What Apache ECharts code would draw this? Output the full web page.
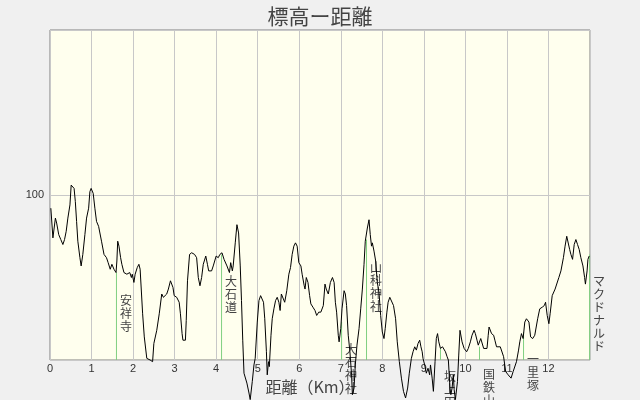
<!DOCTYPE html>
<html>
<head>
<meta charset="utf-8">
<script src="https://cdn.jsdelivr.net/npm/echarts@6/dist/echarts.min.js"></script>
<style>
html,body{margin:0;padding:0;background:#f0f0f0;}
#chart{width:640px;height:400px;}
</style>
</head>
<body>
<div id="chart"></div>
<script>
// Distance along the route (km)
var distKm = [0.02,0.07,0.13,0.16,0.21,0.26,0.31,0.35,0.39,0.43,0.48,0.51,0.54,0.58,0.61,0.64,0.67,0.72,0.75,0.79,
0.84,0.88,0.93,0.96,0.99,1.04,1.08,1.12,1.17,1.24,1.30,1.36,1.40,1.45,1.49,1.54,1.59,1.61,1.63,1.66,
1.70,1.73,1.78,1.85,1.92,1.96,1.98,2.02,2.05,2.10,2.14,2.17,2.23,2.27,2.33,2.41,2.47,2.50,2.57,2.63,
2.69,2.73,2.81,2.85,2.90,2.96,2.99,3.05,3.11,3.14,3.18,3.20,3.26,3.28,3.31,3.36,3.41,3.48,3.53,3.57,
3.61,3.65,3.69,3.75,3.79,3.82,3.89,3.93,4.00,4.05,4.09,4.14,4.19,4.26,4.32,4.35,4.39,4.41,4.46,4.50,
4.52,4.54,4.58,4.61,4.64,4.67,4.74,4.79,4.82,4.87,4.91,4.94,4.99,5.03,5.07,5.11,5.14,5.17,5.21,5.23,
5.26,5.28,5.32,5.35,5.39,5.43,5.47,5.51,5.54,5.57,5.61,5.65,5.70,5.75,5.79,5.83,5.87,5.91,5.95,5.99,
6.04,6.07,6.12,6.14,6.17,6.21,6.25,6.28,6.33,6.38,6.42,6.47,6.52,6.58,6.62,6.65,6.70,6.75,6.80,6.84,
6.87,6.90,6.94,6.96,7.00,7.03,7.08,7.11,7.14,7.18,7.22,7.26,7.28,7.32,7.35,7.39,7.44,7.48,7.52,7.56,
7.59,7.64,7.68,7.71,7.74,7.76,7.80,7.84,7.88,7.92,7.96,8.00,8.04,8.07,8.11,8.14,8.18,8.22,8.27,8.32,
8.36,8.41,8.46,8.51,8.56,8.61,8.65,8.70,8.74,8.78,8.82,8.86,8.90,8.93,8.96,8.98,9.02,9.06,9.10,9.14,
9.16,9.20,9.23,9.27,9.30,9.33,9.36,9.40,9.45,9.49,9.52,9.56,9.59,9.63,9.65,9.68,9.71,9.73,9.76,9.81,
9.84,9.87,9.89,9.92,9.97,10.03,10.07,10.12,10.16,10.21,10.24,10.28,10.31,10.34,10.37,10.40,10.44,10.48,10.52,10.55,
10.57,10.60,10.63,10.68,10.71,10.75,10.79,10.84,10.88,10.92,10.97,11.03,11.10,11.15,11.23,11.28,11.31,11.35,11.39,11.43,
11.47,11.53,11.57,11.62,11.67,11.74,11.79,11.85,11.90,11.93,11.97,12.01,12.04,12.09,12.16,12.20,12.25,12.30,12.36,12.40,
12.44,12.47,12.51,12.54,12.58,12.62,12.66,12.70,12.74,12.78,12.83,12.87,12.89,12.93,12.95,12.98];

// Elevation (m, on the chart's scale)
var elevM = [92,74,86,83,76,73,70,73,78,86,94,106,107,104,96,84,72,62,57,64,
76,86,92,102,104,101,92,84,81,72,64,62,59,55,58,55,53,60,72,69,
62,58,53,52,53,50,52,47,52,56,58,55,28,14,1,0,-1,10,18,28,
40,38,40,43,48,44,39,38,35,28,16,12,12,24,48,64,65,64,62,50,
45,50,58,63,58,54,54,57,63,62,64,65,61,57,53,59,54,57,71,82,
83,77,57,36,12,-8,-14,-20,-24,-13,-3,1,23,36,39,40,35,25,5,-9,
-1,-4,15,25,31,36,38,35,30,40,41,35,42,52,56,64,69,71,69,59,
57,52,45,43,50,47,39,34,32,30,27,29,29,33,46,43,40,47,50,47,
35,29,15,11,19,31,42,40,33,15,5,-9,-21,-17,-3,9,19,31,43,58,
72,80,85,76,69,71,66,60,47,41,27,17,13,19,29,35,38,37,33,25,
11,-1,-11,-19,-23,-17,-8,1,5,8,6,10,12,8,5,1,-3,-8,-5,-9,
-3,-11,-19,-1,13,16,11,7,8,9,5,2,0,-17,-21,-17,-9,-18,-24,-13,
3,18,19,11,7,5,7,11,15,18,16,12,9,10,13,12,7,6,7,15,
20,21,16,15,12,8,9,8,7,2,-7,-9,-11,-7,-1,6,11,16,13,23,
25,23,14,13,15,25,31,32,33,35,27,22,28,39,43,44,50,54,62,69,
75,75,67,64,61,70,73,70,67,62,57,50,46,54,61,63];

// Landmarks along the route
var landmarkNames = ['安祥寺','大石道','大石神社','山科神社','坂上田村麻呂墓','国鉄山科駅','一里塚','マクドナルド'];
var landmarkKm    = [1.60, 4.13, 7.02, 7.62, 9.40, 10.34, 11.40, 12.99];
var landmarkElev  = [53, 64, 23, 73, 7, 8, 17, 64];

var xTicks = {min: 0, max: 13, step: 1};
var yTicks = {min: 0, max: 200, step: 100};

var profile = distKm.map(function (d, i) { return [d, elevM[i]]; });
var marks = landmarkKm.map(function (d, i) { return {name: landmarkNames[i], value: [d, landmarkElev[i]]}; });

var chart = echarts.init(document.getElementById('chart'), null, {renderer: 'canvas'});
chart.setOption({
  animation: false,
  backgroundColor: '#f0f0f0',
  title: {
    text: '標高ー距離',
    left: 'center',
    top: 1,
    textStyle: {fontFamily: 'Noto Sans CJK JP', fontSize: 21, fontWeight: 'normal', color: '#444'}
  },
  grid: {
    left: 50, right: 50, top: 30, bottom: 40,
    show: true, backgroundColor: '#ffffee', borderColor: '#808080', borderWidth: 1
  },
  xAxis: {
    type: 'value',
    min: xTicks.min, max: xTicks.max, interval: xTicks.step,
    name: '距離（Km）',
    nameLocation: 'middle',
    nameGap: 15,
    nameTextStyle: {fontFamily: 'Noto Sans CJK JP', fontSize: 16, color: '#444', padding: [0, 20, 0, 0]},
    axisLine: {show: false},
    axisTick: {show: false},
    axisLabel: {margin: 3, fontSize: 11, color: '#333', fontFamily: 'Liberation Sans', showMaxLabel: false},
    splitLine: {show: true, lineStyle: {color: '#c8c8c8', width: 1}}
  },
  yAxis: {
    type: 'value',
    min: yTicks.min, max: yTicks.max, interval: yTicks.step,
    axisLine: {show: false},
    axisTick: {show: false},
    axisLabel: {margin: 6, fontSize: 11, color: '#333', fontFamily: 'Liberation Sans', showMinLabel: false, showMaxLabel: false},
    splitLine: {show: true, lineStyle: {color: '#c8c8c8', width: 1}}
  },
  series: [
    {
      type: 'bar',
      data: marks,
      barWidth: 1,
      z: 2,
      itemStyle: {color: '#80d080'},
      label: {
        show: true,
        position: [10, 21],
        align: 'center',
        verticalAlign: 'top',
        fontFamily: 'Noto Sans CJK JP',
        fontSize: 12,
        lineHeight: 13,
        color: '#444',
        formatter: function (p) { return p.name.split('').join('\n'); }
      }
    },
    {
      type: 'line',
      data: profile,
      clip: false,
      z: 3,
      symbol: 'none',
      showSymbol: false,
      lineStyle: {color: '#000', width: 1}
    }
  ]
});
</script>
</body>
</html>
